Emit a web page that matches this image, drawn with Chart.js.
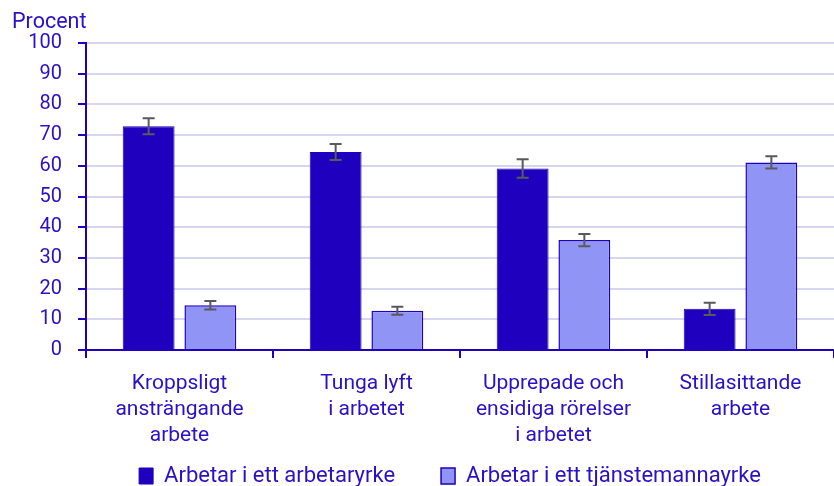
<!DOCTYPE html>
<html>
<head>
<meta charset="utf-8">
<script src="https://cdn.jsdelivr.net/npm/chart.js@4"></script>
<style>
  html, body { margin: 0; padding: 0; background: #fff; }
  #wrap { width: 834px; height: 486px; }
</style>
</head>
<body>
<div id="wrap"><canvas id="out" width="834" height="486"></canvas></div>
<script>
const categories = [
  ["Kroppsligt", "ansträngande", "arbete"],
  ["Tunga lyft", "i arbetet"],
  ["Upprepade och", "ensidiga rörelser", "i arbetet"],
  ["Stillasittande", "arbete"]
];
const seriesNames = ["Arbetar i ett arbetaryrke", "Arbetar i ett tjänstemannayrke"];
const arbetare = [72.9, 64.5, 59.1, 13.4];
const tjansteman = [14.6, 12.8, 35.8, 61.1];
// felmarginaler (±)
const arbetareErr = [2.6, 2.6, 3.0, 2.0];
const tjanstemanErr = [1.4, 1.3, 2.0, 2.0];
const yTicks = [0, 10, 20, 30, 40, 50, 60, 70, 80, 90, 100];

const darkBlue = "#1e00be";
const lightBlue = "#8f94f5";
const textColor = "#2a10c8";

// ritar felstaplar
const errorBars = {
  id: "errorBars",
  afterDatasetsDraw(chart) {
    const ctx = chart.ctx;
    const errs = [arbetareErr, tjanstemanErr];
    const y = chart.scales.y;
    ctx.save();
    ctx.strokeStyle = "#5a5a5a";
    ctx.lineWidth = 2;
    chart.data.datasets.forEach((ds, di) => {
      const meta = chart.getDatasetMeta(di);
      meta.data.forEach((bar, i) => {
        const v = ds.data[i];
        const e = errs[di][i];
        const top = y.getPixelForValue(v + e);
        const bot = y.getPixelForValue(v - e);
        const x = bar.x;
        ctx.beginPath();
        ctx.moveTo(x, top); ctx.lineTo(x, bot);
        ctx.moveTo(x - 6, top); ctx.lineTo(x + 6, top);
        ctx.moveTo(x - 6, bot); ctx.lineTo(x + 6, bot);
        ctx.stroke();
      });
    });
    ctx.restore();
  }
};

// "Procent" ovanför y-axeln, förklaringen lite åt höger,
// och x-axelns etiketter får plats med tre rader
const extras = {
  id: "extras",
  afterLayout(chart) {
    const lg = chart.legend;
    if (lg) { lg.left += 33; lg.right += 33; }
    const x = chart.scales.x;
    x.bottom += 40;
    x.height += 40;
  },
  afterDraw(chart) {
    const ctx = chart.ctx;
    ctx.save();
    ctx.fillStyle = textColor;
    ctx.font = "21.5px Roboto";
    ctx.textBaseline = "alphabetic";
    ctx.fillText("Procent", 12, 28);
    ctx.restore();
  }
};

new Chart(document.getElementById("out").getContext("2d"), {
  type: "bar",
  data: {
    labels: categories,
    datasets: [
      {
        label: seriesNames[0],
        data: arbetare,
        backgroundColor: darkBlue,
        borderColor: darkBlue,
        borderWidth: 1,
        barPercentage: 0.84,
        categoryPercentage: 0.66
      },
      {
        label: seriesNames[1],
        data: tjansteman,
        backgroundColor: lightBlue,
        borderColor: darkBlue,
        borderWidth: 1.5,
        barPercentage: 0.84,
        categoryPercentage: 0.66
      }
    ]
  },
  options: {
    responsive: false,
    animation: false,
    layout: { padding: { top: 43, right: 0, left: 0, bottom: -11 } },
    plugins: {
      tooltip: { enabled: false },
      legend: {
        position: "bottom",
        labels: {
          color: textColor,
          font: { family: "Roboto", size: 22 },
          boxWidth: 14,
          boxHeight: 16,
          padding: 46,
          useBorderRadius: false
        }
      }
    },
    scales: {
      x: {
        offset: true,
        afterFit(scale) { scale.height = 69; },
        border: { color: darkBlue, width: 2 },
        grid: {
          offset: true,
          drawOnChartArea: false,
          color: darkBlue,
          lineWidth: 2,
          tickLength: 8
        },
        ticks: {
          color: textColor,
          font: { family: "Roboto", size: 21, lineHeight: 1.24 },
          maxRotation: 0,
          autoSkip: false,
          padding: 13
        }
      },
      y: {
        min: 0,
        max: 100,
        afterFit(scale) { scale.width = 86; },
        afterBuildTicks(scale) {
          scale.ticks = yTicks.map(v => ({ value: v }));
        },
        border: { color: darkBlue, width: 2 },
        grid: {
          color: "#d6d6f0",
          lineWidth: 2,
          tickColor: darkBlue,
          tickLength: 8
        },
        ticks: {
          color: textColor,
          font: { family: "Roboto", size: 20 },
          padding: 16
        }
      }
    }
  },
  plugins: [errorBars, extras]
});
</script>
</body>
</html>
